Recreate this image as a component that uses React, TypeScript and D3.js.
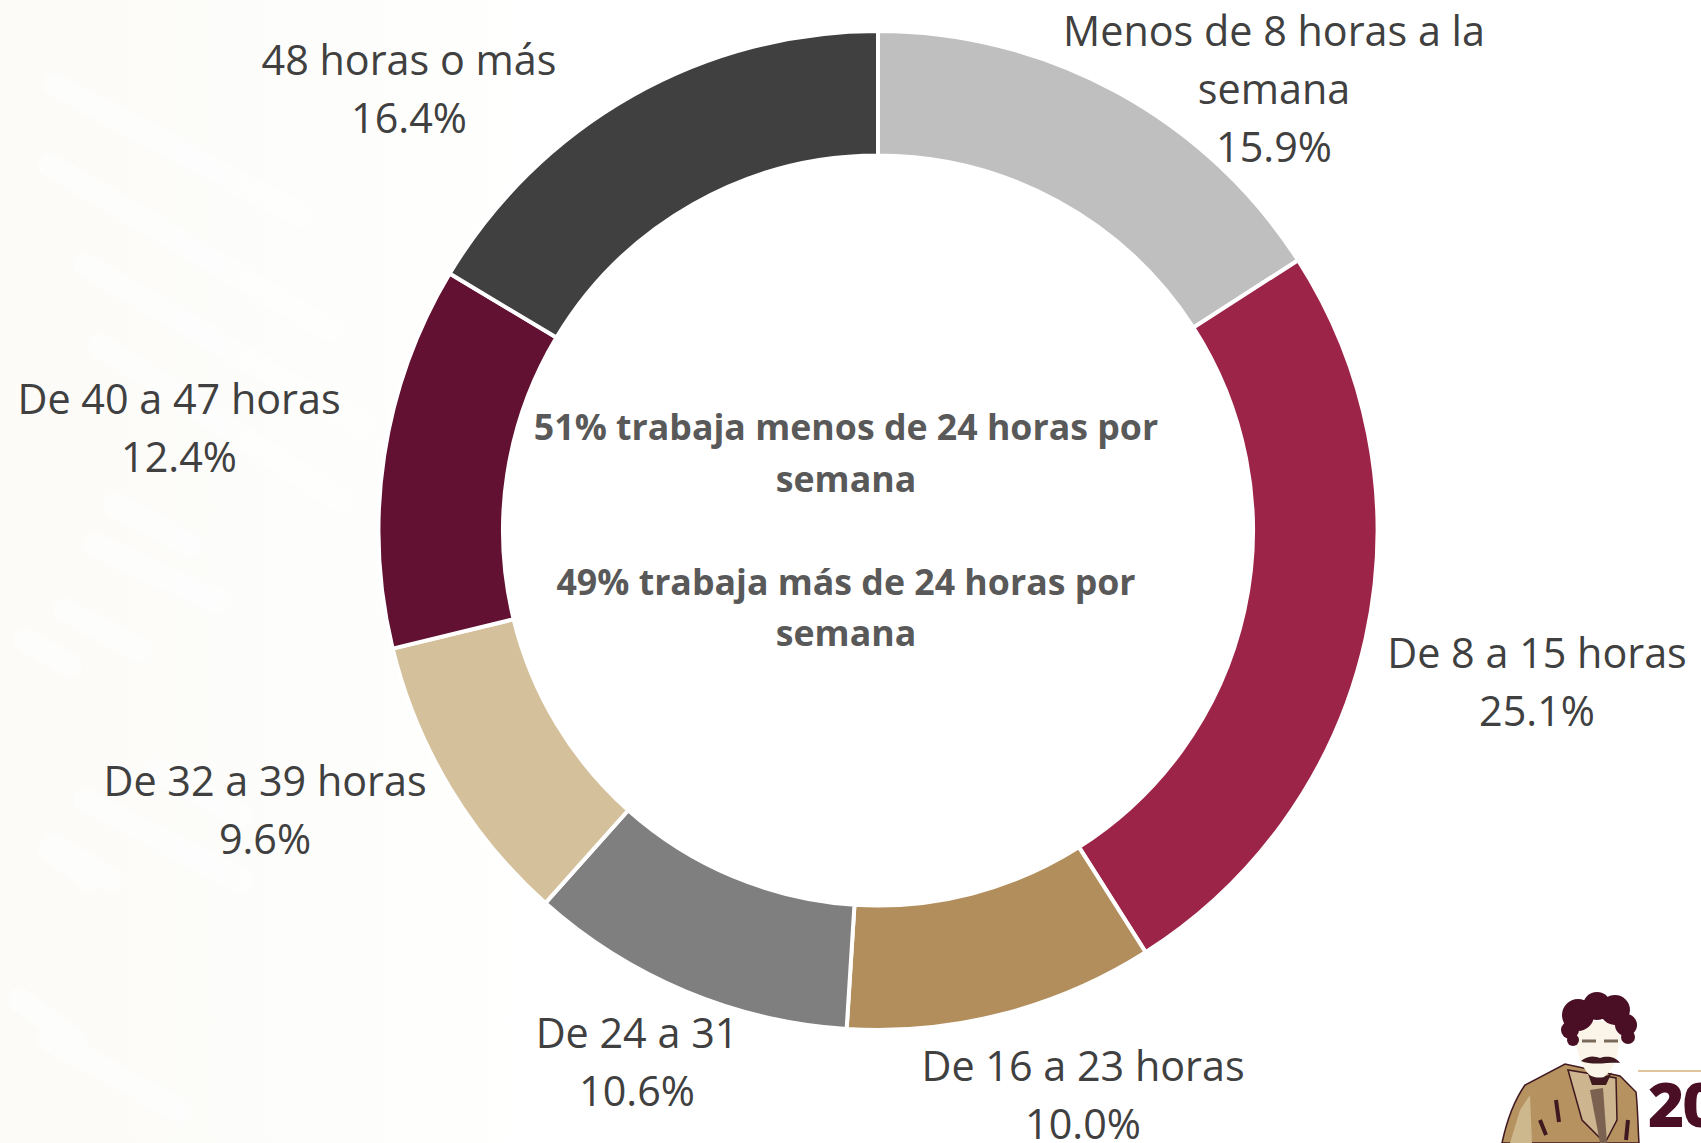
import React from 'react';
import * as d3 from 'd3';

const categories = [
  ['Menos de 8 horas a la', 'semana'],
  ['De 8 a 15 horas'],
  ['De 16 a 23 horas'],
  ['De 24 a 31'],
  ['De 32 a 39 horas'],
  ['De 40 a 47 horas'],
  ['48 horas o más'],
];
const values = [15.9, 25.1, 10.0, 10.6, 9.6, 12.4, 16.4];
const colors = ['#BFBFBF', '#9D2449', '#B38E5D', '#7F7F7F', '#D4C19C', '#621132', '#404040'];
const labelX = [1274, 1537, 1083, 637, 265, 179, 409];
const labelY = [46, 668, 1081, 1048, 796, 414, 75];
const centerLines = [
  '51% trabaja menos de 24 horas por',
  'semana',
  '',
  '49% trabaja más de 24 horas por',
  'semana',
];

const W = 1701;
const H = 1143;
const cx = 878;
const cy = 530.5;

const pie = d3.pie<number>().sort(null).value(d => d);
const arc = d3.arc<d3.PieArcDatum<number>>().innerRadius(375).outerRadius(499.5);

// faint watermark strokes in the background
const waterStrokes = [
  'M55 85 L300 215', 'M50 165 L330 330', 'M85 265 L360 425', 'M100 345 L340 500',
  'M115 505 L190 545', 'M95 545 L215 600', 'M65 610 L140 650', 'M25 640 L70 665',
  'M155 770 L240 815', 'M85 800 L240 880', 'M50 850 L90 880', 'M20 1000 L75 1040',
  'M55 845 L110 880', 'M50 1040 L180 1110',
];

const hairPuffs: [number, number, number][] = [
  [1578, 1015, 16], [1597, 1006, 14], [1615, 1010, 15], [1626, 1025, 11],
  [1570, 1030, 9], [1628, 1037, 7], [1573, 1040, 6],
];

const Portrait = () => (
  <g>
    <path d="M1502 1143 C1508 1115 1518 1095 1525 1085 L1565 1064 L1620 1076 L1636 1092 C1638 1110 1638 1130 1639 1143 Z" fill="#B5925F" stroke="#3F1820" strokeWidth={1.5} />
    <path d="M1520 1110 L1530 1095 L1532 1143 L1510 1143 Z" fill="#CDB78D" />
    <path d="M1568 1070 L1582 1120 L1605 1143 L1617 1120 L1616 1078 Z" fill="#CDB58F" stroke="#3F1820" strokeWidth={1.5} />
    <path d="M1590 1090 L1603 1088 L1607 1143 L1600 1143 Z" fill="#7B6150" />
    <path d="M1556 1100 L1559 1122 M1628 1120 L1626 1140 M1540 1120 L1546 1135" stroke="#3F1820" strokeWidth={4} fill="none" />
    <path d="M1575 1020 C1574 1050 1582 1076 1598 1079 C1612 1078 1621 1052 1621 1022 Z" fill="#FBF4E8" />
    <g fill="#4A0F24">
      {hairPuffs.map((p, i) => <circle key={i} cx={p[0]} cy={p[1]} r={p[2]} />)}
    </g>
    <path d="M1582 1022 C1595 1015 1610 1018 1620 1030 L1622 1012 L1576 1012 Z" fill="#4A0F24" />
    <path d="M1582 1041 L1596 1041 M1604 1041 L1618 1041" stroke="#7A6A5A" strokeWidth={3} />
    <path d="M1581 1061 C1590 1054 1596 1057 1600 1058 C1606 1056 1615 1056 1620 1063 C1610 1062 1592 1066 1581 1061 Z" fill="#3F1820" />
    <path d="M1588 1074 C1596 1080 1608 1078 1612 1072 L1606 1085 L1592 1085 Z" fill="#3F1820" />
    <path d="M1638 1071 L1701 1071" stroke="#DFC49C" strokeWidth={2} />
    <text x={1648} y={1127} fontFamily="'Open Sans', sans-serif" fontWeight={800} fontSize={62} fill="#4A0F24" letterSpacing={-2}>20</text>
  </g>
);

export default function App() {
  const arcs = pie(values);
  return (
    <svg width={W} height={H} style={{ position: 'absolute', left: 0, top: 0, background: '#fff' }}>
      <defs>
        <linearGradient id="fade" x1="0" x2="1" y1="0" y2="0">
          <stop offset="0" stopColor="#FCFBF8" />
          <stop offset="0.55" stopColor="#FDFDFB" />
          <stop offset="1" stopColor="#FFFFFF" />
        </linearGradient>
      </defs>
      <rect width={560} height={H} fill="url(#fade)" />
      <g stroke="#FFFFFF" strokeWidth={24} strokeLinecap="round" fill="none" opacity={0.6}>
        {waterStrokes.map((d, i) => <path key={i} d={d} />)}
      </g>
      <g transform={`translate(${cx},${cy})`}>
        {arcs.map((a, i) => (
          <path key={i} d={arc(a) as string} fill={colors[i]} stroke="#fff" strokeWidth={4} />
        ))}
      </g>
      <g fontFamily="'Open Sans', sans-serif" fontSize={41.3} fill="#404040" textAnchor="middle">
        {categories.map((lines, i) => (
          <text key={i} x={labelX[i]} y={labelY[i]}>
            {[...lines, `${values[i].toFixed(1)}%`].map((t, j) => (
              <tspan key={j} x={labelX[i]} dy={j === 0 ? 0 : 58}>{t}</tspan>
            ))}
          </text>
        ))}
      </g>
      <g fontFamily="'Open Sans', sans-serif" fontWeight={700} fontSize={35.7} fill="#595959" textAnchor="middle">
        {centerLines.map((t, i) => (
          <text key={i} x={846} y={440 + i * 51.5}>{t}</text>
        ))}
      </g>
      <Portrait />
    </svg>
  );
}
